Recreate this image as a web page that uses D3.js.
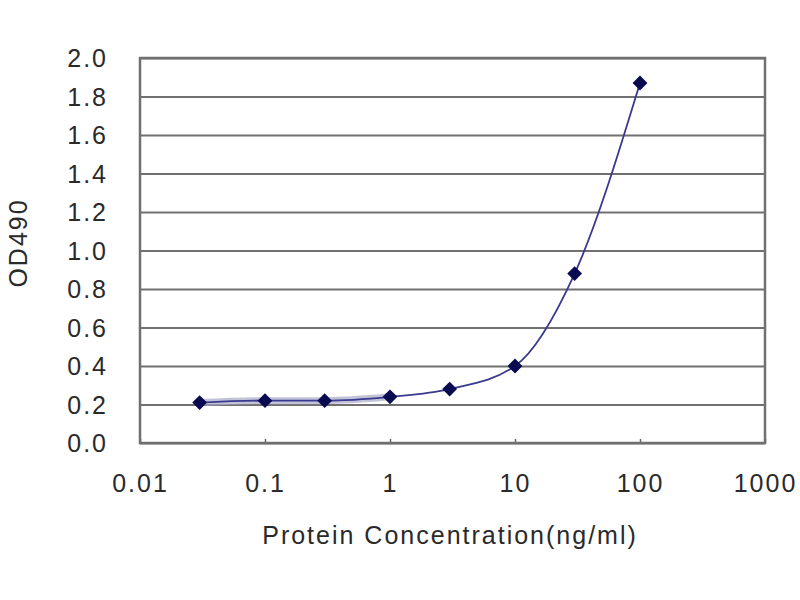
<!DOCTYPE html>
<html>
<head>
<meta charset="utf-8">
<script src="https://cdn.jsdelivr.net/npm/d3@7"></script>
<style>
  body { margin: 0; background: #fff; }
  svg text { font-family: "Liberation Sans", Arial, sans-serif; fill: #2a2a2a; }
</style>
</head>
<body>
<svg id="chart" width="800" height="600"></svg>
<script>
/* --- data --- */
var concentrations = [0.03, 0.1, 0.3, 1, 3, 10, 30, 100];
var od_values = [0.21, 0.22, 0.22, 0.24, 0.28, 0.40, 0.88, 1.87];
var x_ticks = [0.01, 0.1, 1, 10, 100, 1000];
var x_tick_labels = ["0.01", "0.1", "1", "10", "100", "1000"];
var y_ticks = [0, 0.2, 0.4, 0.6, 0.8, 1.0, 1.2, 1.4, 1.6, 1.8, 2.0];

/* --- layout --- */
var plot_left = 140, plot_right = 765, plot_top = 58, plot_bottom = 443;

var svg = d3.select("#chart");
var points = concentrations.map((c, i) => ({x: c, y: od_values[i]}));

var x = d3.scaleLog().domain([0.01, 1000]).range([plot_left, plot_right]);
var y = d3.scaleLinear().domain([0, 2]).range([plot_bottom, plot_top]);

// horizontal grid lines
svg.append("g")
  .attr("transform", "translate(" + plot_left + ",0)")
  .call(d3.axisLeft(y).tickValues(y_ticks).tickSize(-(plot_right - plot_left)).tickFormat(""))
  .call(g => g.select(".domain").remove())
  .call(g => g.selectAll("line").attr("stroke", "#707070").attr("stroke-width", 2.2));

// y tick labels
svg.append("g")
  .attr("transform", "translate(" + plot_left + ",0)")
  .call(d3.axisLeft(y).tickValues(y_ticks).tickSize(0).tickPadding(32).tickFormat(d3.format(".1f")))
  .call(g => g.select(".domain").remove())
  .call(g => g.selectAll("text").attr("font-size", 25).attr("letter-spacing", "2px").attr("dy", "0.34em"));

// x axis
svg.append("g")
  .attr("transform", "translate(0," + plot_bottom + ")")
  .call(d3.axisBottom(x).tickValues(x_ticks).tickSizeInner(-4).tickSizeOuter(0).tickPadding(26)
    .tickFormat((d, i) => x_tick_labels[i]))
  .call(g => g.select(".domain").remove())
  .call(g => g.selectAll("line").attr("stroke", "#666").attr("stroke-width", 1.5))
  .call(g => g.selectAll("text").attr("font-size", 25).attr("letter-spacing", "2px").attr("dy", "0.9em"));

// plot frame
svg.append("rect")
  .attr("x", plot_left).attr("y", plot_top)
  .attr("width", plot_right - plot_left).attr("height", plot_bottom - plot_top)
  .attr("fill", "none")
  .attr("stroke", "#707070")
  .attr("stroke-width", 2.5);

// soft band under the low points (blurry overlap in the original)
var band = d3.line().x(d => x(d.x)).y(d => y(d.y)).curve(d3.curveMonotoneX);
svg.append("path")
  .datum(points.slice(0, 4))
  .attr("d", band)
  .attr("fill", "none")
  .attr("stroke", "#a8a8c8")
  .attr("stroke-opacity", 0.7)
  .attr("stroke-width", 7);

// fitted curve
var line = d3.line().x(d => x(d.x)).y(d => y(d.y)).curve(d3.curveMonotoneX);
svg.append("path")
  .datum(points)
  .attr("d", line)
  .attr("fill", "none")
  .attr("stroke", "#3a3a90")
  .attr("stroke-width", 1.8);

// diamond markers
svg.append("g")
  .selectAll("path")
  .data(points)
  .join("path")
  .attr("d", d3.symbol().type(d3.symbolDiamond2).size(140))
  .attr("transform", d => "translate(" + x(d.x) + "," + y(d.y) + ")")
  .attr("fill", "#0a0a50");

// axis titles
svg.append("text")
  .attr("x", 450).attr("y", 544)
  .attr("text-anchor", "middle")
  .attr("font-size", 25)
  .attr("letter-spacing", "2px")
  .text("Protein Concentration(ng/ml)");

svg.append("text")
  .attr("transform", "translate(27,243) rotate(-90)")
  .attr("text-anchor", "middle")
  .attr("font-size", 25)
  .attr("letter-spacing", "2px")
  .text("OD490");
</script>
</body>
</html>
